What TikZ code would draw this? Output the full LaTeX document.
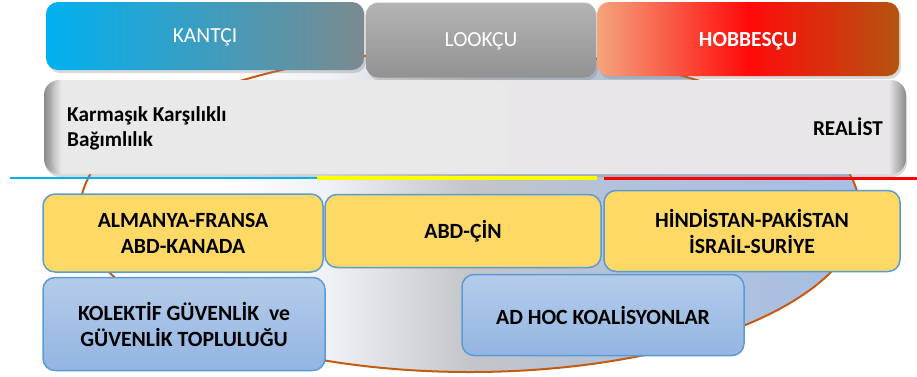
\documentclass[tikz,border=0pt]{standalone}
\usepackage{fontspec}
\setmainfont{Carlito}
\usetikzlibrary{shadows}

\definecolor{kantL}{HTML}{00B0F0}
\definecolor{kantR}{HTML}{7B8A8F}
\definecolor{lockeT}{HTML}{B4B4B4}
\definecolor{lockeB}{HTML}{929292}
\definecolor{hobL}{HTML}{F4A57C}
\definecolor{hobM}{HTML}{FF0A0A}
\definecolor{hobR}{HTML}{B4540F}
\definecolor{barF}{HTML}{E8E6E8}
\definecolor{barE}{HTML}{8A8A8A}
\definecolor{ellB}{HTML}{C55A11}
\definecolor{ellW}{HTML}{FFFFFF}
\definecolor{ellL}{HTML}{F0F1F5}
\definecolor{ellG}{HTML}{C4C5C9}
\definecolor{ellS}{HTML}{B2C1DA}
\definecolor{ellR}{HTML}{A7BFE4}
\definecolor{gold}{HTML}{FFD966}
\definecolor{edgeblue}{HTML}{5B9BD5}
\definecolor{skyT}{HTML}{B4CCEA}
\definecolor{skyB}{HTML}{93B5E2}
\definecolor{lineC}{HTML}{00B0F0}
\definecolor{lineY}{HTML}{FFFF00}
\definecolor{lineR}{HTML}{FF0000}

\pgfdeclarehorizontalshading{hobshade}{100bp}{color(0bp)=(hobL); color(25bp)=(hobL); color(50bp)=(hobM); color(75bp)=(hobR); color(100bp)=(hobR)}
\pgfdeclarehorizontalshading{barshade}{100bp}{color(0bp)=(barE); color(25bp)=(barE); color(26bp)=(barF); color(74bp)=(barF); color(75bp)=(barE); color(100bp)=(barE)}
\pgfdeclarehorizontalshading{ellshade}{100bp}{color(0bp)=(ellW); color(25bp)=(ellW); color(34bp)=(ellW); color(41bp)=(ellL); color(50bp)=(ellG); color(60bp)=(ellS); color(75bp)=(ellR); color(100bp)=(ellR)}

\begin{document}
\begin{tikzpicture}[x=1pt,y=-1pt,
    top_box/.style={rounded corners=12pt, inner sep=0pt, text depth=0pt, text=white, font=\fontsize{21.5}{25}\selectfont,
        drop shadow={shadow xshift=2pt, shadow yshift=-3pt, opacity=.3}},
    pair_box/.style={rounded corners=12pt, inner sep=0pt, fill=gold, draw=edgeblue, line width=1.5pt,
        align=center, font=\fontsize{21.7}{26}\selectfont\bfseries},
    group_box/.style={rounded corners=12pt, inner sep=0pt, top color=skyT, bottom color=skyB, draw=edgeblue,
        line width=1.5pt, align=center, font=\fontsize{21.7}{26}\selectfont\bfseries},
    bar_text/.style={inner sep=0pt, font=\fontsize{21.2}{25}\selectfont\bfseries}]
    \useasboundingbox (0,0) rectangle (917,376);
    \shade[shading=ellshade, draw=ellB, line width=2pt] (470,211) ellipse [x radius=390pt, y radius=161pt];

    \node[top_box, top color=lockeT, bottom color=lockeB, minimum width=230pt, minimum height=75pt] (locke) at (481,40) {LOOKÇU};
    \node[top_box, left color=kantL, right color=kantR, minimum width=318pt, minimum height=68pt] (kant) at (205,36) {KANTÇI};
    \node[top_box, shading=hobshade, minimum width=302pt, minimum height=74pt,
        font=\fontsize{21.5}{25}\selectfont\bfseries] (hobbes) at (748,39) {HOBBESÇU};

    \node[shading=barshade, rounded corners=15pt, minimum width=862pt, minimum height=94pt,
        drop shadow={shadow xshift=1pt, shadow yshift=-3pt, opacity=.3}] (bar) at (475,127) {};
    \fill[white, opacity=.12, rounded corners=12pt] (52,81) rectangle (508,172);
    \node[bar_text, anchor=west, align=left] (complex) at (67,128) {Karmaşık Karşılıklı\\Bağımlılık};
    \node[bar_text, anchor=east] (realist) at (883,127) {REALİST};

    \coordinate (c1) at (10,178);
    \coordinate (c2) at (317,178);
    \coordinate (c3) at (597,178);
    \coordinate (c4) at (604,178);
    \coordinate (c5) at (917,178);
    \draw[lineC, line width=1.2pt] (c1) -- (c2);
    \draw[lineY, line width=4pt] (c2) -- (c3);
    \draw[lineR, line width=3pt] (c4) -- (c5);

    \node[pair_box, minimum width=280pt, minimum height=78pt] (p1) at (183,233) {ALMANYA-FRANSA\\ABD-KANADA};
    \node[pair_box, minimum width=276pt, minimum height=73pt] (p2) at (463,231) {ABD-ÇİN};
    \node[pair_box, minimum width=296pt, minimum height=81pt] (p3) at (752,231) {HİNDİSTAN-PAKİSTAN\\İSRAİL-SURİYE};

    \node[group_box, minimum width=282pt, minimum height=93pt] (g1) at (184,324) {KOLEKTİF GÜVENLİK\ \ ve\\GÜVENLİK TOPLULUĞU};
    \node[group_box, minimum width=282pt, minimum height=81pt] (g2) at (603,315) {AD HOC KOALİSYONLAR};
\end{tikzpicture}
\end{document}
